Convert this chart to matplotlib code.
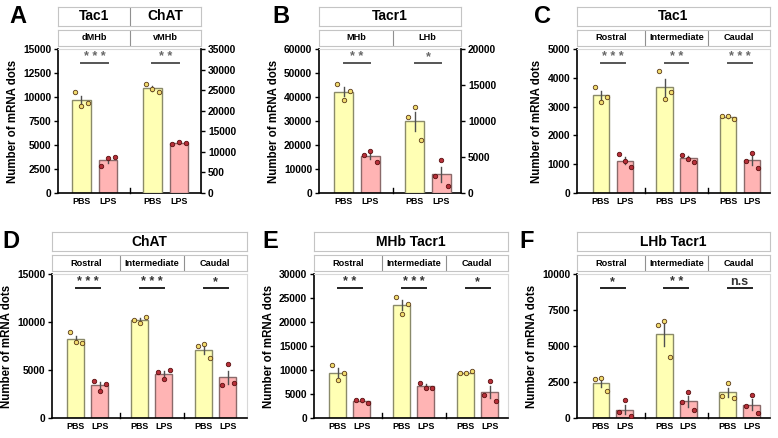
import matplotlib.pyplot as plt
import numpy as np

plt.rcParams['font.family'] = ['Liberation Sans', 'DejaVu Sans']
plt.rcParams['font.weight'] = 'bold'

W, H = 778, 438

# ---- data (3 animals per group) ----
a_title = ['Tac1', 'ChAT']
a_groups = ['dMHb', 'vMHb']
a_pbs = [[10500, 9050, 9400], [26550, 25340, 24530]]
a_lps = [[2850, 3690, 3760], [11860, 12420, 12100]]
a_stars = ['* * *', '* *']
a_ticks = [0, 2500, 5000, 7500, 10000, 12500, 15000]
a_right_ticks = [0, 5000, 10000, 15000, 20000, 25000, 30000, 35000]
a_right_labels = ['0', '500', '10000', '15000', '20000', '25000', '30000', '35000']

b_title = ['Tacr1']
b_groups = ['MHb', 'LHb']
b_pbs = [[45380, 38840, 42600], [10580, 11880, 7420]]
b_lps = [[15870, 17540, 12950], [2320, 4550, 970]]
b_stars = ['* *', '*']
b_ticks = [0, 10000, 20000, 30000, 40000, 50000, 60000]
b_right_ticks = [0, 5000, 10000, 15000, 20000]

regions = ['Rostral', 'Intermediate', 'Caudal']

c_title = ['Tac1']
c_pbs = [[3680, 3155, 3340], [4220, 3280, 3500], [2660, 2660, 2575]]
c_lps = [[1370, 1100, 915], [1335, 1195, 1080], [1115, 1405, 880]]
c_stars = ['* * *', '* *', '* * *']
c_ticks = [0, 1000, 2000, 3000, 4000, 5000]

d_title = ['ChAT']
d_pbs = [[8920, 7920, 7810], [10240, 9930, 10520], [7460, 7670, 6220]]
d_lps = [[3850, 2810, 3540], [4790, 4060, 5030], [3440, 5590, 3680]]
d_stars = ['* * *', '* * *', '*']
d_ticks = [0, 5000, 10000, 15000]

e_title = ['MHb Tacr1']
e_pbs = [[11040, 7920, 9310], [25140, 21670, 23750], [9310, 9310, 9790]]
e_lps = [[3750, 3680, 3190], [7360, 6250, 6250], [4720, 7780, 3610]]
e_stars = ['* *', '* * *', '*']
e_ticks = [0, 5000, 10000, 15000, 20000, 25000, 30000]

f_title = ['LHb Tacr1']
f_pbs = [[2690, 2800, 1880], [6460, 6740, 4240], [1510, 2430, 1390]]
f_lps = [[390, 1230, 140], [1090, 1830, 530], [860, 1600, 350]]
f_stars = ['*', '* *', 'n.s']
f_ticks = [0, 2500, 5000, 7500, 10000]

GAP = 2.65
PBS_C, LPS_C = '#ffffb4', '#ffb4b4'
PBS_E, LPS_E = '#8a8a6a', '#8a6a6a'
PBS_M, LPS_M = '#f2dc6e', '#b8303a'


def rect(x0, y0, x1, y1):
    return [x0 / W, 1 - y1 / H, (x1 - x0) / W, (y1 - y0) / H]


def header(fig, box, xlim, labels, cuts, size):
    hx = fig.add_axes(rect(*box))
    hx.set_xlim(xlim)
    hx.set_ylim(0, 1)
    hx.set_xticks([])
    hx.set_yticks([])
    for s in hx.spines.values():
        s.set_color('#c4c4c4')
        s.set_linewidth(0.8)
    edges = [xlim[0]] + cuts + [xlim[1]]
    for c in cuts:
        hx.axvline(c, color='#909090', lw=0.8)
    for i, lab in enumerate(labels):
        hx.text((edges[i] + edges[i + 1]) / 2, 0.5, lab, ha='center', va='center',
                fontsize=size, fontweight='bold')


def panel(fig, letter, lx, ly, box, titles, groups, pbs, lps, stars, ticks, xlim,
          right_ticks=None, right_labels=None, sig_col='#666666', line_col='#555555'):
    x0, y0, x1, y1 = box
    ax = fig.add_axes(rect(*box))
    n = len(pbs)
    cuts = [g * GAP + (1 + GAP) / 2 for g in range(n - 1)]
    axes = [ax] * n
    if right_ticks is not None:
        ax2 = ax.twinx()
        axes = [ax, ax2]
    for g in range(n):
        a = axes[g]
        for k, (vals, fc, ec, mc) in enumerate([(pbs[g], PBS_C, PBS_E, PBS_M),
                                                (lps[g], LPS_C, LPS_E, LPS_M)]):
            x = g * GAP + k
            v = np.array(vals, dtype=float)
            m = v.mean()
            se = v.std(ddof=1) / np.sqrt(len(v))
            a.bar(x, m, width=0.7, color=fc, edgecolor=ec, linewidth=1.0, zorder=2)
            a.plot([x, x], [m - se, m + se], color='#505050', lw=1.0, zorder=3)
            a.plot(x + np.array([-0.25, 0, 0.25]), v, 'o', ms=3.2, mfc=mc,
                   mec='#5a3a1a' if k == 0 else '#5a1010', mew=0.6, zorder=4)
        # significance bar
        trans = ax.get_xaxis_transform()
        ax.plot([g * GAP, g * GAP + 1], [0.9, 0.9], transform=trans, color=line_col,
                lw=1.4, clip_on=False, zorder=5)
        ax.text(g * GAP + 0.5, 0.905, stars[g], transform=trans, ha='center', va='bottom',
                fontsize=9, color=sig_col, fontweight='bold')
    for c in cuts:
        ax.plot([c, c], [0, 0.035], transform=ax.get_xaxis_transform(), color='black',
                lw=1.0, clip_on=False)
    ax.set_xlim(xlim)
    ax.set_ylim(ticks[0], ticks[-1])
    ax.set_yticks(ticks)
    ax.set_yticklabels([str(t) for t in ticks])
    xs = []
    for g in range(n):
        xs += [g * GAP, g * GAP + 1]
    ax.set_xticks(xs)
    ax.set_xticklabels(['PBS', 'LPS'] * n, fontsize=6.4, fontweight='bold')
    ax.tick_params(axis='x', length=0, pad=3)
    ax.tick_params(axis='y', direction='out', length=3, width=1, labelsize=7.4, pad=2)
    ax.set_ylabel('Number of mRNA dots', fontsize=8.3, fontweight='bold', labelpad=3)
    ax.spines['left'].set_linewidth(1.2)
    ax.spines['bottom'].set_linewidth(1.2)
    ax.spines['top'].set_color('#d8d8d8')
    ax.spines['right'].set_color('#d8d8d8')
    if right_ticks is not None:
        ax2.set_ylim(right_ticks[0], right_ticks[-1])
        ax2.set_yticks(right_ticks)
        ax2.set_yticklabels(right_labels if right_labels else [str(t) for t in right_ticks])
        ax2.tick_params(axis='y', direction='out', length=3, width=1, labelsize=7.4, pad=2)
        for s in ['left', 'bottom', 'top']:
            ax2.spines[s].set_visible(False)
        ax2.spines['right'].set_color('black')
        ax2.spines['right'].set_linewidth(1.2)
    # header boxes
    h1 = (x0, y0 - 42, x1, y0 - 23)
    h2 = (x0, y0 - 19, x1, y0 - 3)
    header(fig, h1, xlim, titles, cuts if len(titles) > 1 else [], 10)
    header(fig, h2, xlim, groups, cuts, 6.6)
    fig.text(lx / W, 1 - ly / H, letter, fontsize=17, fontweight='bold', va='top', ha='left')


fig = plt.figure(figsize=(W / 100, H / 100), dpi=100)

panel(fig, 'A', 9, 5, (58, 49, 201, 193), a_title, a_groups, a_pbs, a_lps, a_stars,
      a_ticks, (-0.87, 4.47), a_right_ticks, a_right_labels)
panel(fig, 'B', 272, 5, (319, 49, 461, 193), b_title, b_groups, b_pbs, b_lps, b_stars,
      b_ticks, (-0.92, 4.38), b_right_ticks)
panel(fig, 'C', 534, 5, (577, 49, 770, 193), c_title, regions, c_pbs, c_lps, c_stars,
      c_ticks, (-1.0, 7.05))
panel(fig, 'D', 2, 230, (52, 274, 247, 418), d_title, regions, d_pbs, d_lps, d_stars,
      d_ticks, (-0.98, 7.1), sig_col='#333333', line_col='#222222')
panel(fig, 'E', 262, 230, (314, 274, 508, 418), e_title, regions, e_pbs, e_lps, e_stars,
      e_ticks, (-0.98, 7.05), sig_col='#333333', line_col='#222222')
panel(fig, 'F', 519, 230, (577, 274, 770, 418), f_title, regions, f_pbs, f_lps, f_stars,
      f_ticks, (-1.0, 7.07), sig_col='#333333', line_col='#222222')

fig.savefig('out.png', dpi=100)
